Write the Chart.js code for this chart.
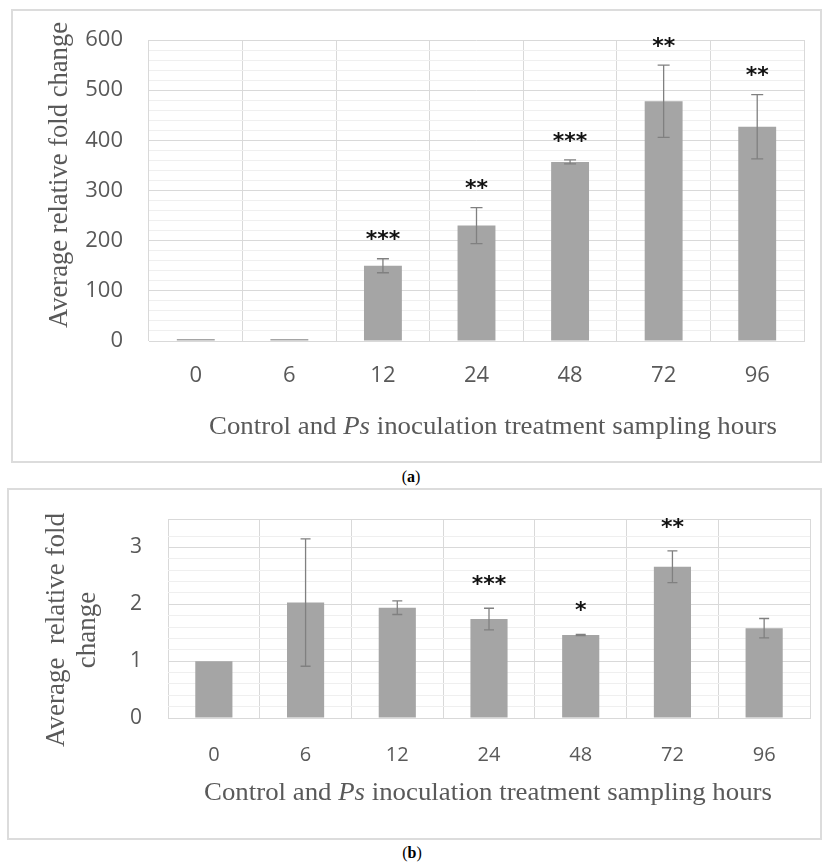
<!DOCTYPE html>
<html>
<head>
<meta charset="utf-8">
<script src="https://cdn.jsdelivr.net/npm/chart.js@4.4.1/dist/chart.umd.min.js"></script>
<style>
body { margin: 0; background: #fff; }
#page { position: relative; width: 823px; height: 864px; overflow: hidden; }
.frame { position: absolute; border: 2px solid #dcdcdc; box-sizing: border-box; }
.cap { position: absolute; width: 60px; text-align: center; font-family: "Liberation Serif", serif; font-size: 16px; line-height: 18px; color: #000; }
.wrap { position: absolute; left: 0; width: 823px; }
</style>
</head>
<body>
<div id="page">
  <div class="frame" style="left:11px;top:9px;width:811px;height:454px;"></div>
  <div class="cap" style="left:381px;top:468px;">(<b>a</b>)</div>
  <div class="frame" style="left:7px;top:488px;width:815px;height:352px;"></div>
  <div class="cap" style="left:382px;top:844px;">(<b>b</b>)</div>
  <div class="wrap" style="top:0;height:464px;"><canvas id="chart_a"></canvas></div>
  <div class="wrap" style="top:480px;height:384px;"><canvas id="chart_b"></canvas></div>
</div>
<script>
const hours = ['0', '6', '12', '24', '48', '72', '96'];

// panel (a)
const foldA = [1, 2, 150, 230, 357, 478, 427];
const errA = [0, 0, 14, 36, 4, 72, 64];
const starsA = ['', '', '***', '**', '***', '**', '**'];

// panel (b)
const foldB = [1.0, 2.03, 1.94, 1.74, 1.46, 2.66, 1.58];
const errB = [0, 1.12, 0.12, 0.19, 0.01, 0.28, 0.17];
const starsB = ['', '', '', '***', '*', '**', ''];

const grey = '#595959';
const serif = '"Liberation Serif", "Times New Roman", serif';

function drawRuns(ctx, runs, size, cx, cy, width) {
    let total = 0;
    runs.forEach(r => {
        ctx.font = (r.italic ? 'italic ' : '') + size + 'px ' + serif;
        r.w = ctx.measureText(r.text).width;
        total += r.w;
    });
    const k = width ? width / total : 1;
    ctx.save();
    ctx.translate(cx, cy);
    ctx.scale(k, 1);
    ctx.textAlign = 'left';
    ctx.textBaseline = 'middle';
    let x = -total / 2;
    runs.forEach(r => {
        ctx.font = (r.italic ? 'italic ' : '') + size + 'px ' + serif;
        ctx.fillText(r.text, x, 0);
        x += r.w;
    });
    ctx.restore();
}

const extras = {
    id: 'extras',
    afterDatasetsDraw(chart, args, opts) {
        const ctx = chart.ctx;
        const y = chart.scales.y;
        const meta = chart.getDatasetMeta(0);
        const vals = chart.data.datasets[0].data;
        ctx.save();
        meta.data.forEach((bar, i) => {
            const e = opts.errors[i];
            if (e > 0) {
                const top = y.getPixelForValue(vals[i] + e);
                const bot = y.getPixelForValue(vals[i] - e);
                ctx.strokeStyle = '#808080';
                ctx.lineWidth = 1.3;
                ctx.beginPath();
                ctx.moveTo(bar.x, top); ctx.lineTo(bar.x, bot);
                ctx.moveTo(bar.x - opts.cap / 2, top); ctx.lineTo(bar.x + opts.cap / 2, top);
                ctx.moveTo(bar.x - opts.cap / 2, bot); ctx.lineTo(bar.x + opts.cap / 2, bot);
                ctx.stroke();
            }
            const s = opts.stars[i];
            if (s) {
                const top = y.getPixelForValue(vals[i] + e);
                ctx.fillStyle = '#111';
                ctx.font = 'bold ' + opts.starSize + 'px "DejaVu Sans", sans-serif';
                ctx.textAlign = 'center';
                ctx.textBaseline = 'alphabetic';
                ctx.fillText(s, bar.x, top - opts.starOffset + 0.58 * opts.starSize);
            }
        });
        ctx.restore();
    },
    afterDraw(chart, args, opts) {
        const ctx = chart.ctx;
        ctx.save();
        ctx.fillStyle = grey;
        const xt = opts.xTitle;
        drawRuns(ctx, [
            { text: 'Control and ' },
            { text: 'Ps', italic: true },
            { text: ' inoculation treatment sampling hours' }
        ], xt.size, xt.cx, xt.cy, xt.width);
        const yt = opts.yTitle;
        ctx.save();
        ctx.translate(yt.cx, yt.cy);
        ctx.rotate(-Math.PI / 2);
        yt.lines.forEach((line, i) => {
            const off = (i - (yt.lines.length - 1) / 2) * yt.spacing;
            drawRuns(ctx, [{ text: line }], yt.size, 0, off, i === 0 ? yt.width : null);
        });
        ctx.restore();
        ctx.restore();
    }
};

function makeChart(id, values, opt) {
    const onStep = (v, m) => Math.abs(v / m - Math.round(v / m)) < 1e-6;
    return new Chart(document.getElementById(id), {
        type: 'bar',
        data: {
            labels: hours,
            datasets: [{
                data: values,
                backgroundColor: '#a5a5a5',
                borderWidth: 0,
                minBarLength: 2,
                categoryPercentage: 1,
                barPercentage: 0.405
            }]
        },
        options: {
            responsive: true,
            maintainAspectRatio: false,
            animation: false,
            layout: { padding: opt.padding },
            plugins: {
                legend: { display: false },
                tooltip: { enabled: false },
                extras: opt.extras
            },
            scales: {
                x: {
                    offset: true,
                    grid: { offset: true, color: '#d9d9d9', drawTicks: false },
                    border: { color: '#d9d9d9' },
                    ticks: { color: grey, padding: opt.xPad, autoSkip: false, maxRotation: 0, font: { family: '"Open Sans", sans-serif', size: opt.xSize } },
                    afterFit: s => { s.height = opt.xHeight; }
                },
                y: {
                    min: 0,
                    max: opt.max,
                    grid: {
                        drawTicks: false,
                        color: c => (onStep(c.tick.value, opt.major) || Math.abs(c.tick.value - opt.max) < 1e-6) ? '#d9d9d9' : '#efefef'
                    },
                    border: { display: false },
                    ticks: {
                        stepSize: opt.step,
                        autoSkip: false,
                        color: grey,
                        padding: 26,
                        font: { family: '"Open Sans", sans-serif', size: opt.ySize },
                        callback: v => onStep(v, opt.major) ? String(Math.round(v)) : ''
                    },
                    afterFit: s => { s.width = opt.yWidth; }
                }
            }
        },
        plugins: [extras]
    });
}

makeChart('chart_a', foldA, {
    max: 600, step: 20, major: 100,
    padding: { top: 40, right: 19, left: 0, bottom: 0 },
    yWidth: 149, xHeight: 123, xPad: 22, xSize: 22, ySize: 22,
    extras: {
        errors: errA, stars: starsA, cap: 12, starSize: 22, starOffset: 25,
        xTitle: { size: 25, cx: 493, cy: 427, width: 568 },
        yTitle: { lines: ['Average relative fold change'], size: 27, cx: 60, cy: 175, width: 306, spacing: 31 }
    }
});

makeChart('chart_b', foldB, {
    max: 3.5, step: 0.2, major: 1,
    padding: { top: 39, right: 13, left: 0, bottom: 0 },
    yWidth: 168, xHeight: 146, xPad: 25, xSize: 20, ySize: 21,
    extras: {
        errors: errB, stars: starsB, cap: 10, starSize: 22, starOffset: 30,
        xTitle: { size: 25, cx: 488, cy: 313, width: 568 },
        yTitle: { lines: ['Average  relative fold', 'change'], size: 27, cx: 72, cy: 150, width: 234, spacing: 31 }
    }
});
</script>
</body>
</html>
